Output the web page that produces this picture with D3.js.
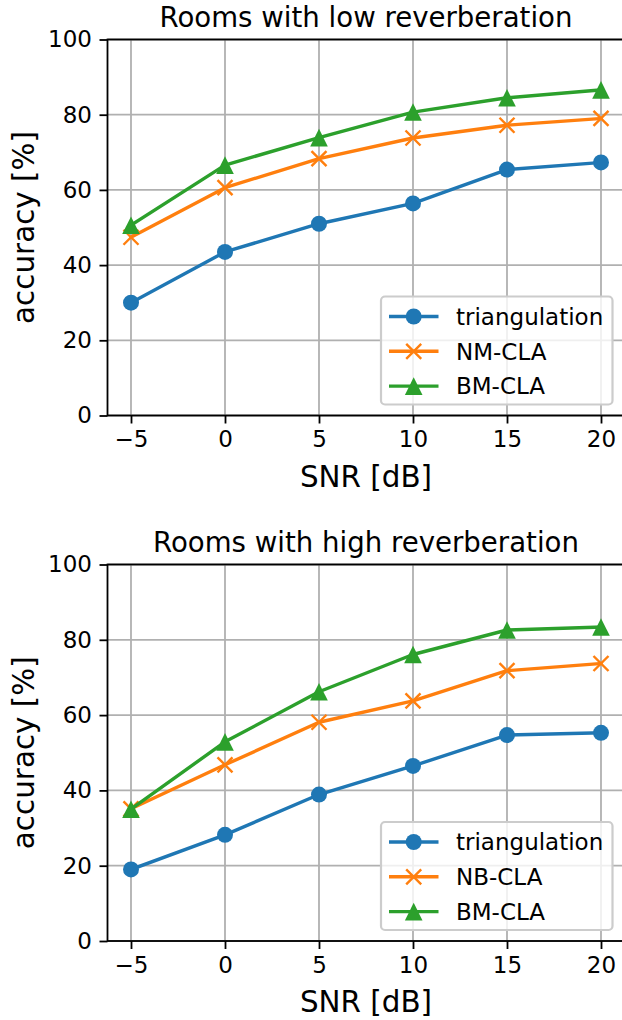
<!DOCTYPE html>
<html>
<head>
<meta charset="utf-8">
<script src="https://cdn.jsdelivr.net/npm/d3@7"></script>
<style>
  body { margin: 0; background: #fff; }
  svg { display: block; font-family: "DejaVu Sans", sans-serif; }
</style>
</head>
<body>
<div id="chart"></div>
<script>
// values
let snr = [-5, 0, 5, 10, 15, 20];
let xTicks = [-5, 0, 5, 10, 15, 20];
let yTicks = [0, 20, 40, 60, 80, 100];

let lowNames = ["triangulation", "NM-CLA", "BM-CLA"];
let lowTri = [30.0, 43.5, 51.0, 56.4, 65.4, 67.3];
let lowNM = [47.4, 60.6, 68.3, 73.8, 77.2, 79.0];
let lowBM = [50.6, 66.6, 73.9, 80.7, 84.5, 86.6];

let highNames = ["triangulation", "NB-CLA", "BM-CLA"];
let highTri = [19.0, 28.2, 38.9, 46.5, 54.7, 55.3];
let highNB = [35.1, 46.8, 58.1, 63.8, 71.8, 73.7];
let highBM = [35.0, 52.9, 66.2, 76.1, 82.6, 83.4];

let colors = ["#1f77b4", "#ff7f0e", "#2ca02c"];
let markers = ["circle", "x", "triangle"];

let width = 622;
let height = 1020;
let left = 107.5;
let right = 624.5;
let tickLen = 8;

let svg = d3.select("#chart")
    .append("svg")
    .attr("width", width)
    .attr("height", height);

let x = d3.scaleLinear().domain([-6.25, 21.25]).range([left, right]);

function drawMarker(g, type, cx, cy, color) {
    if (type == "circle") {
        g.append("circle")
            .attr("cx", cx).attr("cy", cy).attr("r", 8)
            .attr("fill", color);
    }
    else if (type == "x") {
        let s = 7.5;
        g.append("path")
            .attr("d", `M${cx - s},${cy - s}L${cx + s},${cy + s}M${cx - s},${cy + s}L${cx + s},${cy - s}`)
            .attr("stroke", color)
            .attr("stroke-width", 2.4)
            .attr("fill", "none");
    }
    else {
        let s = 8.8;
        g.append("path")
            .attr("d", `M${cx},${cy - s}L${cx - s},${cy + s}L${cx + s},${cy + s}Z`)
            .attr("fill", color);
    }
}

function drawPanel(top, bottom, title, names, series) {
    let y = d3.scaleLinear().domain([0, 100]).range([bottom, top]);
    let g = svg.append("g");

    // grid
    g.append("g").selectAll("line").data(xTicks).join("line")
        .attr("x1", d => x(d)).attr("x2", d => x(d))
        .attr("y1", top).attr("y2", bottom)
        .attr("stroke", "#b0b0b0").attr("stroke-width", 1.8);
    g.append("g").selectAll("line").data(yTicks).join("line")
        .attr("x1", left).attr("x2", right)
        .attr("y1", d => y(d)).attr("y2", d => y(d))
        .attr("stroke", "#b0b0b0").attr("stroke-width", 1.8);

    // series
    let line = d3.line().x((d, i) => x(snr[i])).y(d => y(d));
    series.forEach((vals, k) => {
        g.append("path")
            .datum(vals)
            .attr("d", line)
            .attr("fill", "none")
            .attr("stroke", colors[k])
            .attr("stroke-width", 3.4)
            .attr("stroke-linejoin", "round")
            .attr("stroke-linecap", "square");
        vals.forEach((v, i) => drawMarker(g, markers[k], x(snr[i]), y(v), colors[k]));
    });

    // frame
    g.append("rect")
        .attr("x", left).attr("y", top)
        .attr("width", right - left).attr("height", bottom - top)
        .attr("fill", "none").attr("stroke", "#000").attr("stroke-width", 1.8);

    // axes
    let xAxis = g.append("g")
        .attr("transform", `translate(0,${bottom})`)
        .call(d3.axisBottom(x).tickValues(xTicks).tickSize(tickLen).tickPadding(7.5));
    let yAxis = g.append("g")
        .attr("transform", `translate(${left},0)`)
        .call(d3.axisLeft(y).tickValues(yTicks).tickSize(tickLen).tickPadding(7.5));
    [xAxis, yAxis].forEach(a => {
        a.select(".domain").remove();
        a.selectAll(".tick line").attr("stroke", "#000").attr("stroke-width", 1.8);
        a.selectAll("text")
            .attr("font-size", 23)
            .attr("font-family", "DejaVu Sans")
            .attr("fill", "#000");
    });

    g.append("text")
        .attr("x", (left + right) / 2).attr("y", top - 13)
        .attr("text-anchor", "middle")
        .attr("font-size", 27.6)
        .text(title);

    g.append("text")
        .attr("x", (left + right) / 2).attr("y", bottom + 71)
        .attr("text-anchor", "middle")
        .attr("font-size", 29.4)
        .text("SNR [dB]");

    g.append("text")
        .attr("transform", `translate(34,${(top + bottom) / 2}) rotate(-90)`)
        .attr("text-anchor", "middle")
        .attr("font-size", 29.4)
        .text("accuracy [%]");

    // legend
    let lx = 381, lw = 231.5, lh = 108;
    let ly = bottom - 11 - lh;
    let leg = g.append("g");
    leg.append("rect")
        .attr("x", lx).attr("y", ly)
        .attr("width", lw).attr("height", lh)
        .attr("rx", 4).attr("ry", 4)
        .attr("fill", "#fff").attr("fill-opacity", 0.8)
        .attr("stroke", "#cccccc").attr("stroke-width", 2.2);
    names.forEach((name, k) => {
        let ry = ly + 20 + k * 34.8;
        leg.append("line")
            .attr("x1", 389).attr("x2", 438.5)
            .attr("y1", ry).attr("y2", ry)
            .attr("stroke", colors[k]).attr("stroke-width", 3.4);
        drawMarker(leg, markers[k], 413.7, ry, colors[k]);
        leg.append("text")
            .attr("x", 456).attr("y", ry + 8.3)
            .attr("font-size", 23)
            .text(name);
    });
}

drawPanel(39.5, 415.5, "Rooms with low reverberation", lowNames, [lowTri, lowNM, lowBM]);
drawPanel(564.5, 941, "Rooms with high reverberation", highNames, [highTri, highNB, highBM]);
</script>
</body>
</html>
